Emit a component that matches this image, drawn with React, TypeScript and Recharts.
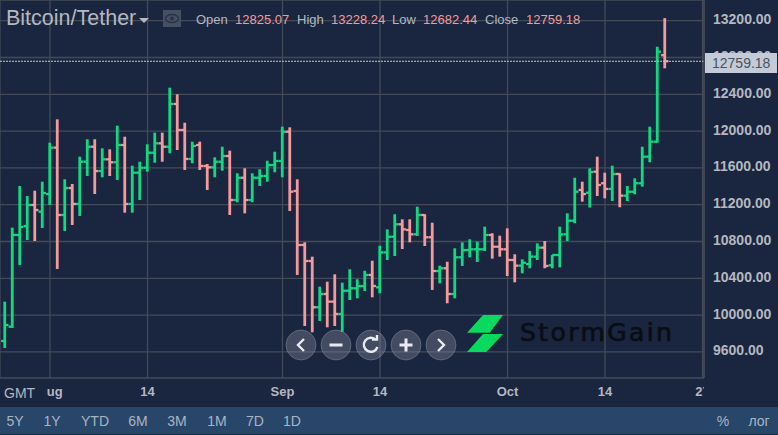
import { Bar, CartesianGrid, ComposedChart, ReferenceLine, XAxis, YAxis } from 'recharts'

const firstDay = -6

const opens = [
  9718, 9874, 10871, 10968, 11197, 11124, 11316, 11820, 11088, 11381, 11208, 11667, 11830, 11566, 11693, 11661, 11849,
  11208, 11548, 11602, 11765, 11867, 11830, 12295, 12012, 11697, 11849, 11621, 11606, 11667, 11729, 11251, 11493, 11251,
  11493, 11512, 11631, 11675, 11993, 11349, 10762, 10588, 10085, 10229, 10146, 10012, 10265, 10291, 10316, 10436, 10302,
  10682, 10852, 10987, 10925, 10878, 11088, 10846, 10479, 10509, 10229, 10628, 10707, 10715, 10715, 10871, 10743, 10715,
  10599, 10537, 10555, 10635, 10733, 10541, 10653, 10878, 11026, 11360, 11330, 11559, 11433, 11371, 11534, 11298, 11341,
  11433, 11722, 11885, 12825.07,
]
const highs = [
  10146, 10950, 11403, 11294, 11352, 11450, 11874, 12128, 11476, 11425, 11722, 11911, 11911, 11813, 11802, 12059, 11939,
  11624, 11667, 11856, 11983, 11983, 12472, 12400, 12091, 11885, 11885, 11642, 11715, 11830, 11787, 11541, 11596, 11541,
  11585, 11678, 11776, 12048, 12041, 11476, 10791, 10635, 10309, 10363, 10443, 10352, 10498, 10389, 10482, 10591, 10754,
  10932, 11096, 11041, 11041, 11178, 11096, 11004, 10537, 10580, 10726, 10791, 10824, 10798, 10961, 10889, 10863, 10943,
  10661, 10606, 10697, 10780, 10805, 10653, 10961, 11106, 11493, 11450, 11596, 11722, 11548, 11624, 11541, 11403, 11487,
  11830, 12048, 12917, 13228.24,
]
const lows = [
  9642, 9860, 10544, 10816, 10805, 10947, 11197, 10501, 10914, 10979, 11077, 11512, 11316, 11498, 11512, 11468, 11113,
  11113, 11251, 11559, 11656, 11667, 11759, 11794, 11577, 11650, 11577, 11360, 11498, 11570, 11088, 11226, 11106, 11226,
  11403, 11450, 11552, 11498, 11131, 10436, 9881, 9813, 9936, 9867, 9881, 9819, 10164, 10182, 10262, 10193, 10237, 10599,
  10642, 10718, 10791, 10860, 10751, 10273, 10345, 10128, 10182, 10534, 10628, 10577, 10697, 10613, 10635, 10425, 10356,
  10454, 10509, 10599, 10509, 10509, 10519, 10805, 10998, 11233, 11169, 11294, 11269, 11240, 11172, 11240, 11313, 11396,
  11661, 11874, 12682.44,
]
const closes = [
  9892, 10871, 10958, 11197, 11142, 11327, 11820, 11088, 11381, 11208, 11667, 11830, 11566, 11693, 11661, 11849, 11208,
  11548, 11602, 11765, 11867, 11830, 12295, 12012, 11697, 11838, 11621, 11606, 11667, 11729, 11251, 11493, 11251, 11493,
  11512, 11631, 11675, 11993, 11341, 10762, 10588, 10085, 10229, 10146, 10012, 10265, 10291, 10316, 10436, 10316, 10682,
  10852, 10987, 10932, 10878, 11088, 10846, 10479, 10509, 10229, 10628, 10707, 10715, 10715, 10871, 10743, 10715, 10599,
  10537, 10569, 10635, 10733, 10534, 10653, 10878, 11026, 11341, 11316, 11555, 11414, 11371, 11534, 11298, 11341, 11433,
  11722, 11885, 12863, 12759.18,
]

const priceTicks = [9600, 10000, 10400, 10800, 11200, 11600, 12000, 12400, 12800, 13200]
const dayTicks = [0, 13, 31, 44, 61, 74, 87]
const dayLabels = ['Aug', '14', 'Sep', '14', 'Oct', '14', '27']
const rangeButtons = [
  ['5Y', 15],
  ['1Y', 52],
  ['YTD', 95],
  ['6M', 138],
  ['3M', 177],
  ['1M', 217],
  ['7D', 255],
  ['1D', 292],
] as const

const bars = opens.map((open, i) => ({
  day: firstDay + i,
  open,
  high: highs[i],
  low: lows[i],
  close: closes[i],
}))
const lastClose = closes[closes.length - 1]

const BG = '#1a253f'
const GRID = '#434b59'
const UP = '#12d883'
const DOWN = '#f29a9c'
const TEXT = '#b4b8c0'
const FONT = '"Liberation Sans", Arial, sans-serif'

// one OHLC bar, y and height come from the [low, high] range of the Bar
const OhlcShape = (props: any) => {
  const { x, y, width, height, payload } = props
  const cx = x + width / 2
  const perUnit = height / (payload.high - payload.low)
  const openY = y + (payload.high - payload.open) * perUnit
  const closeY = y + (payload.high - payload.close) * perUnit
  const color = payload.close >= payload.open ? UP : DOWN
  return (
    <g stroke={color} strokeWidth={2.8} fill="none">
      <line x1={cx} x2={cx} y1={y} y2={y + height} />
      <line x1={cx - 3.7} x2={cx} y1={openY} y2={openY} strokeWidth={2.3} />
      <line x1={cx} x2={cx + 3.7} y1={closeY} y2={closeY} strokeWidth={2.3} />
    </g>
  )
}

const Label = ({ left, color, children }: any) => (
  <span style={{ position: 'absolute', left, top: 12, fontSize: 13, lineHeight: '15px', color, whiteSpace: 'nowrap' }}>
    {children}
  </span>
)

const NavButton = ({ cx, children }: any) => (
  <svg
    width={32}
    height={32}
    style={{ position: 'absolute', left: cx - 16, top: 329 }}
    fill="none"
    stroke="#e8eaee"
    strokeWidth={2.4}
  >
    <circle cx={16} cy={16} r={15} fill="rgba(150,155,170,0.33)" stroke="rgba(170,175,190,0.35)" strokeWidth={1} />
    {children}
  </svg>
)

export default function App() {
  return (
    <div style={{ position: 'absolute', left: 0, top: 0, width: 778, height: 435, background: BG, overflow: 'hidden', fontFamily: FONT }}>
      <ComposedChart width={778} height={435} data={bars} margin={{ top: 0, right: 0, bottom: 0, left: 0 }}>
        <CartesianGrid stroke={GRID} strokeWidth={1.3} />
        <XAxis
          dataKey="day"
          type="number"
          domain={[-6.667, 87.2]}
          allowDataOverflow
          ticks={dayTicks}
          interval={0}
          height={57}
          axisLine={false}
          tickLine={false}
          tickMargin={3}
          tick={{ fill: TEXT, fontSize: 13, fontWeight: 700, fontFamily: FONT }}
          tickFormatter={(v: number) => dayLabels[dayTicks.indexOf(v)]}
        />
        <YAxis
          orientation="right"
          type="number"
          width={74}
          domain={[9316, 13425]}
          allowDataOverflow
          ticks={priceTicks}
          interval={0}
          axisLine={{ stroke: GRID, strokeWidth: 1.3 }}
          tickLine={false}
          tickMargin={3}
          tick={{ fill: TEXT, fontSize: 14, fontWeight: 700, fontFamily: FONT, dy: -1.5 }}
          tickFormatter={(v: number) => v.toFixed(2)}
        />
        <Bar
          dataKey={(d: any) => [d.low, d.high]}
          barSize={3}
          shape={OhlcShape}
          isAnimationActive={false}
        />
        <ReferenceLine y={lastClose} stroke="#c4c9d3" strokeDasharray="2 1" strokeWidth={1.1} />
      </ComposedChart>

      {/* current price tag */}
      <div
        style={{
          position: 'absolute',
          left: 705,
          top: 52.5,
          width: 72,
          height: 20,
          background: '#c3cad8',
          color: '#4c525e',
          fontSize: 14,
          lineHeight: '20px',
          paddingLeft: 7,
          boxSizing: 'border-box',
        }}
      >
        {lastClose.toFixed(2)}
      </div>

      {/* covers that clip the outer date labels */}
      <div style={{ position: 'absolute', left: 0, top: 380, width: 47, height: 27, background: BG }} />
      <div style={{ position: 'absolute', left: 704, top: 380, width: 74, height: 27, background: BG }} />
      <span style={{ position: 'absolute', left: 4, top: 385, fontSize: 14, lineHeight: '16px', color: TEXT }}>GMT</span>

      {/* header */}
      <span style={{ position: 'absolute', left: 6, top: 5, fontSize: 21.5, lineHeight: '26px', color: TEXT, whiteSpace: 'nowrap' }}>
        Bitcoin/Tether
      </span>
      <svg width={50} height={22} style={{ position: 'absolute', left: 136, top: 8 }}>
        <path d="M3 10 L13 10 L8 15 Z" fill={TEXT} />
        <rect x={27} y={2} width={18} height={17} fill="#465064" />
        <ellipse cx={36} cy={10.5} rx={6.5} ry={4} fill="none" stroke="#2a3348" strokeWidth={1.5} />
        <circle cx={36} cy={10.5} r={2} fill="#2a3348" />
      </svg>
      <Label left={196} color={TEXT}>Open</Label>
      <Label left={235} color={DOWN}>{opens[opens.length - 1].toFixed(2)}</Label>
      <Label left={297} color={TEXT}>High</Label>
      <Label left={331} color={DOWN}>{highs[highs.length - 1].toFixed(2)}</Label>
      <Label left={392} color={TEXT}>Low</Label>
      <Label left={423} color={DOWN}>{lows[lows.length - 1].toFixed(2)}</Label>
      <Label left={485} color={TEXT}>Close</Label>
      <Label left={526} color={DOWN}>{lastClose.toFixed(2)}</Label>

      {/* navigation buttons */}
      <NavButton cx={301}><path d="M19 10 L13 16 L19 22" /></NavButton>
      <NavButton cx={336}><path d="M9.5 16 L22.5 16" strokeWidth={3} /></NavButton>
      <NavButton cx={371}><path d="M21 11 A7 7 0 1 0 22.5 18 M17 10.5 L22 10.5 L22 6" /></NavButton>
      <NavButton cx={406}><path d="M9.5 16 L22.5 16 M16 9.5 L16 22.5" strokeWidth={3} /></NavButton>
      <NavButton cx={441}><path d="M13 10 L19 16 L13 22" /></NavButton>

      {/* logo */}
      <svg width={40} height={40} style={{ position: 'absolute', left: 465, top: 313 }}>
        <path d="M18 2 L38 2 L24.7 19.7 L2 19.7 Z M18 21 L38 21 L21.3 39 L2 39 Z" fill="#0ad95f" />
      </svg>
      <span
        style={{
          position: 'absolute',
          left: 520,
          top: 318,
          fontFamily: '"DejaVu Sans"',
          fontSize: 25,
          lineHeight: '30px',
          letterSpacing: 2.4,
          color: '#0a0d14',
          WebkitTextStroke: '0.7px #0a0d14',
          whiteSpace: 'nowrap',
        }}
      >
        StormGain
      </span>

      {/* bottom range bar */}
      <div style={{ position: 'absolute', left: 0, top: 407, width: 778, height: 27, background: '#28466a' }}>
        {rangeButtons.map(([text, cx]) => (
          <span
            key={text}
            style={{ position: 'absolute', left: cx, top: 6, transform: 'translateX(-50%)', fontSize: 14, lineHeight: '16px', color: '#a9b4c2' }}
          >
            {text}
          </span>
        ))}
        <span style={{ position: 'absolute', left: 723, top: 6, transform: 'translateX(-50%)', fontSize: 14, lineHeight: '16px', color: '#a9b4c2' }}>%</span>
        <span style={{ position: 'absolute', left: 759, top: 6, transform: 'translateX(-50%)', fontSize: 14, lineHeight: '16px', color: '#a9b4c2' }}>лог</span>
      </div>
    </div>
  )
}
